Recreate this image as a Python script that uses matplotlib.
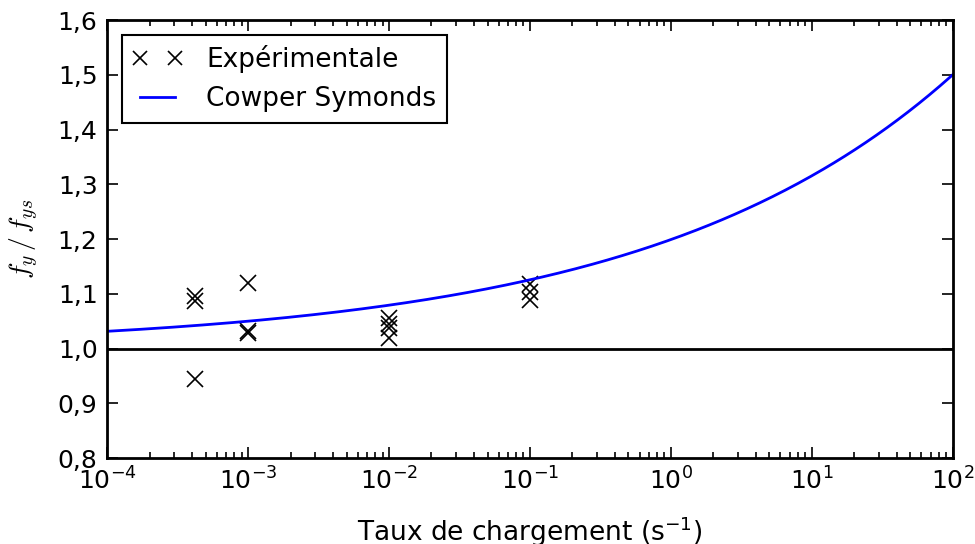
import matplotlib
matplotlib.use('Agg')
import matplotlib.pyplot as plt
from matplotlib.ticker import FuncFormatter, LogLocator
import numpy as np

# measured strain rates (1/s) and normalised yield stress
rate_exp = [4.2e-4, 4.2e-4, 4.2e-4,
            1e-3, 1e-3, 1e-3,
            1e-2, 1e-2, 1e-2, 1e-2,
            1e-1, 1e-1, 1e-1]
ratio_exp = [1.096, 1.087, 0.945,
             1.119, 1.033, 1.029,
             1.055, 1.045, 1.038, 1.020,
             1.118, 1.104, 1.088]

# Cowper-Symonds parameters: f_y/f_ys = 1 + (rate/D)^(1/q)
D_cs = 3200.0
q_cs = 5.0

plt.rcParams['mathtext.fontset'] = 'cm'
plt.rcParams['font.family'] = 'DejaVu Sans'

fig = plt.figure(figsize=(9.75, 5.44), dpi=100)
ax = fig.add_axes([0.110, 0.158, 0.867, 0.805])

rate_cs = np.logspace(-4, 2, 400)
ratio_cs = 1 + (rate_cs / D_cs) ** (1 / q_cs)

ax.plot(rate_exp, ratio_exp, linestyle='none', marker='x', color='black',
        markersize=11, markeredgewidth=1.2, label='Expérimentale')
ax.plot(rate_cs, ratio_cs, color='blue', linewidth=2, label='Cowper Symonds')
ax.axhline(1.0, color='black', linewidth=2)

ax.set_xscale('log')
ax.set_xlim(1e-4, 1e2)
ax.set_ylim(0.8, 1.6)
ax.set_yticks(np.arange(0.8, 1.61, 0.1))
ax.yaxis.set_major_formatter(FuncFormatter(lambda v, p: f'{v:.1f}'.replace('.', ',')))
ax.xaxis.set_major_locator(LogLocator(base=10, numticks=10))
ax.xaxis.set_minor_locator(LogLocator(base=10, subs=np.arange(2, 10), numticks=100))
ax.xaxis.set_major_formatter(FuncFormatter(lambda v, p: r'$\mathregular{10^{%d}}$' % round(np.log10(v))))

ax.tick_params(which='both', direction='in', top=True, right=True, labelsize=18, width=1.2)
ax.tick_params(which='major', length=8, pad=7)
ax.tick_params(which='minor', length=4)
for s in ax.spines.values():
    s.set_linewidth(2)

ax.set_xlabel('Taux de chargement (s$\\mathregular{^{-1}}$)', fontsize=19, labelpad=14)
ax.set_ylabel(r'$f_y\,/\,f_{ys}$', fontsize=20, labelpad=12)

leg = ax.legend(loc='upper left', numpoints=2, fontsize=19, fancybox=False,
                framealpha=1, borderaxespad=0.55, borderpad=0.4,
                handlelength=1.9, handletextpad=0.9, labelspacing=0.5,
                markerscale=0.9)
leg.get_frame().set_edgecolor('black')
leg.get_frame().set_linewidth(1.5)

fig.savefig('out.png', dpi=100, facecolor='white')
